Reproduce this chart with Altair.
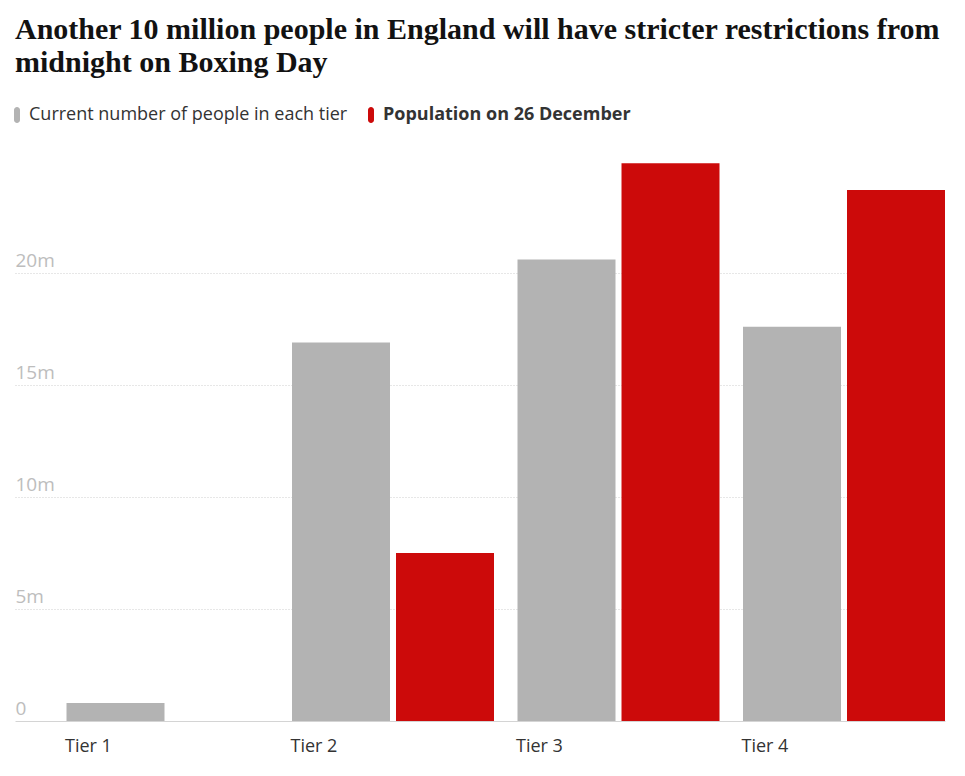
import altair as alt
import pandas as pd

tiers = ["Tier 1", "Tier 2", "Tier 3", "Tier 4"]
current = [0.8, 16.9, 20.6, 17.6]
dec26 = [0.0, 7.5, 24.9, 23.7]
series = ["Current number of people in each tier", "Population on 26 December"]
colors = ["#b3b3b3", "#cc0a0a"]
y_ticks = [0, 5, 10, 15, 20]

rows = []
for t, c, d in zip(tiers, current, dec26):
    rows.append({"tier": t, "series": series[0], "value": c})
    rows.append({"tier": t, "series": series[1], "value": d})
df = pd.DataFrame(rows)

pill = "M-0.375,-0.625 A0.375,0.375 0 0 1 0.375,-0.625 L0.375,0.625 A0.375,0.375 0 0 1 -0.375,0.625 Z"

chart = alt.Chart(df).mark_bar().encode(
    x=alt.X(
        "tier:N", sort=tiers,
        scale=alt.Scale(paddingInner=0, paddingOuter=0.0621, align=1),
        axis=alt.Axis(title=None, labelAngle=0, domain=False, ticks=False,
                      labelAlign="left", labelOffset=-90.75, labelPadding=16,
                      labelFontSize=18, labelColor="#333333", labelFont="Open Sans"),
    ),
    xOffset=alt.XOffset(
        "series:N", sort=series,
        scale=alt.Scale(domain=series, paddingInner=0.0577, paddingOuter=0.113, align=1),
    ),
    y=alt.Y(
        "value:Q",
        scale=alt.Scale(domain=[0, 25], nice=False),
        axis=alt.Axis(
            values=y_ticks, title=None, domain=False, ticks=False,
            labelExpr="datum.value == 0 ? '0' : datum.value + 'm'",
            labelAlign="left", labelBaseline="bottom", labelPadding=0, labelOffset=-3,
            labelFontSize=19, labelColor="#bdbdbd", labelFont="Open Sans",
            grid=True,
            gridDash={"condition": {"test": "datum.value === 0", "value": []}, "value": [1, 2]},
            gridColor={"condition": {"test": "datum.value === 0", "value": "#d4d4d4"}, "value": "#cfcfcf"},
            gridWidth=1,
        ),
    ),
    color=alt.Color(
        "series:N", sort=series,
        scale=alt.Scale(domain=series, range=colors),
        legend=alt.Legend(
            title=None, orient="none", legendX=-7, legendY=-55, direction="horizontal",
            symbolType=pill, symbolSize=256, symbolStrokeWidth=0, symbolOpacity=1,
            labelFontSize=18, labelFont="Open Sans", labelColor="#333333",
            labelFontWeight=alt.ExprRef(expr="datum.label == 'Population on 26 December' ? 'bold' : 'normal'"),
            labelOffset=3, columnPadding=14, labelLimit=0, padding=0,
        ),
    ),
).properties(
    width=930,
    height=560,
    padding={"left": 0, "top": 7, "right": 5, "bottom": 5},
    title=alt.TitleParams(
        text=["Another 10 million people in England will have stricter restrictions from",
              "midnight on Boxing Day"],
        anchor="start", frame="group",
        font="Liberation Serif", fontSize=30, fontWeight="bold",
        color="#121212", lineHeight=33, offset=28,
    ),
).configure_view(stroke=None)

chart.save("out.html", embed_options={"renderer": "svg", "actions": False})
